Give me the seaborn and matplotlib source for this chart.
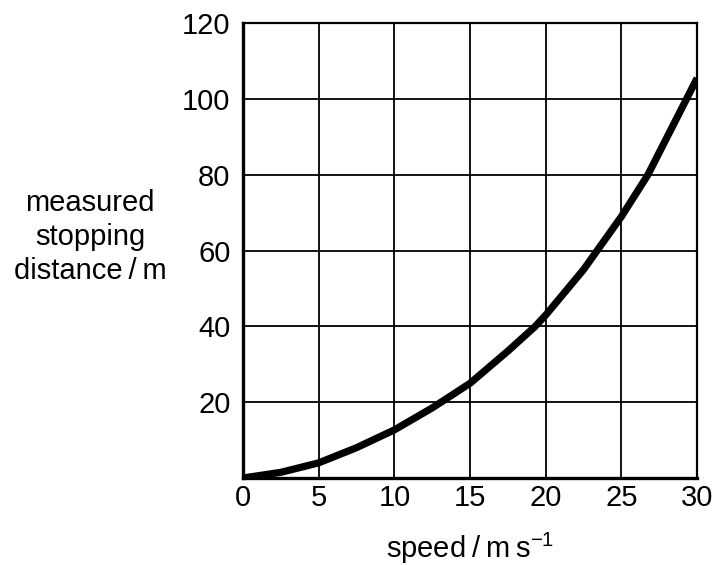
import pandas as pd
import numpy as np
import matplotlib
matplotlib.use('Agg')
import matplotlib.pyplot as plt
import seaborn as sns

# values
speed = [0, 2.5, 5, 7.5, 10, 12.5, 15, 17.5, 19.3, 20, 22.5, 25, 26.75, 27.5, 29.3, 30]
distance = [0, 1.5, 4, 8, 12.7, 18.5, 25, 33.5, 40, 43, 55, 69, 80, 85.9, 100, 105.5]

x_ticks = [0, 5, 10, 15, 20, 25, 30]
y_ticks = [20, 40, 60, 80, 100, 120]

df = pd.DataFrame({'speed': speed, 'distance': distance})

sns.set_style('white')
plt.rcParams['font.family'] = ['Liberation Sans', 'DejaVu Sans']
plt.rcParams['mathtext.fontset'] = 'custom'
plt.rcParams['mathtext.rm'] = 'Liberation Sans'
plt.rcParams['text.color'] = 'black'
plt.rcParams['axes.labelcolor'] = 'black'
plt.rcParams['xtick.color'] = 'black'
plt.rcParams['ytick.color'] = 'black'

fig = plt.figure(figsize=(7.15, 5.65), dpi=100)
ax = fig.add_axes([0.340, 0.154, 0.635, 0.805])

# grid
for xv in x_ticks[1:-1]:
    ax.axvline(xv, color='black', lw=1.3, zorder=1)
for yv in y_ticks[:-1]:
    ax.axhline(yv, color='black', lw=1.3, zorder=1)

sns.lineplot(data=df, x='speed', y='distance', ax=ax, color='black',
             linewidth=5.2, zorder=3, solid_capstyle='butt', solid_joinstyle='round')

ax.set_xlim(0, 30)
ax.set_ylim(0, 120)
ax.set_xticks(x_ticks)
ax.set_yticks(y_ticks)
ax.tick_params(axis='both', length=0, labelsize=21, labelcolor='black')
ax.tick_params(axis='y', pad=9)
ax.tick_params(axis='x', pad=4)

for side in ['left', 'bottom']:
    ax.spines[side].set_linewidth(2.4)
for side in ['top', 'right']:
    ax.spines[side].set_linewidth(1.6)
for s in ax.spines.values():
    s.set_color('black')
    s.set_zorder(4)

ax.set_ylabel('measured\nstopping\ndistance\u2009/\u2009m', rotation=0, fontsize=21,
              ha='center', va='center', linespacing=1.28, color='black')
ax.yaxis.set_label_coords(-0.337, 0.53)
ax.set_xlabel('speed\u2009/\u2009m\u2009s$^{\\mathregular{-1}}$', fontsize=21,
              va='center', color='black')
ax.xaxis.set_label_coords(0.5, -0.154)

plt.savefig('out.png', dpi=100)
